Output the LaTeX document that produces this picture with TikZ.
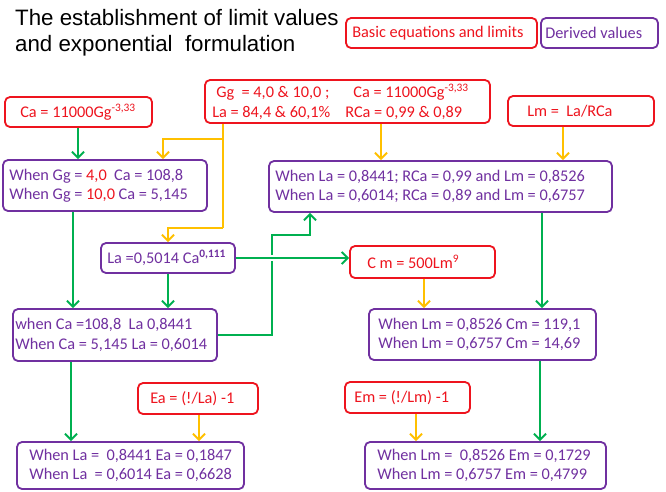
\documentclass[tikz,border=0pt]{standalone}
\usepackage{fontspec}
\setmainfont{Carlito}
\newfontfamily\titlefont{Liberation Sans}
\usetikzlibrary{arrows.meta}
\definecolor{myred}{RGB}{238,20,30}
\definecolor{mypurple}{RGB}{112,48,160}
\definecolor{mygreen}{RGB}{0,176,80}
\definecolor{myyellow}{RGB}{255,192,0}
\tikzset{
 basebox/.style={draw, rounded corners=5pt, line width=1.8pt, fill=white, inner sep=0pt},
 redbox/.style={basebox, draw=myred},
 purbox/.style={basebox, draw=mypurple},
 txt/.style={inner sep=0pt, anchor=west, align=left, font=\fontsize{16.3}{19.5}\selectfont},
 redtxt/.style={txt, text=myred},
 purtxt/.style={txt, text=mypurple},
 garrow/.style={draw=mygreen, line width=2pt, -{Straight Barb[length=6pt,width=12pt]}},
 yarrow/.style={draw=myyellow, line width=2pt, -{Straight Barb[length=6pt,width=12pt]}},
 yline/.style={draw=myyellow, line width=2pt},
}
\begin{document}
\begin{tikzpicture}[x=1pt,y=-1pt]
\useasboundingbox[fill=white] (0,0) rectangle (666,491);
% title
\node[anchor=north west, inner sep=0pt, align=left, font=\titlefont\fontsize{22.3}{26}\selectfont] (title) at (15,9) {The establishment of limit values\\and exponential\ \ formulation};
% legend
\node[redbox, minimum width=191pt, minimum height=30pt] (legbasic) at (441.5,33) {};
\node[redtxt] (legbasic-t) at ([xshift=7pt]legbasic.west) {Basic equations and limits};
\node[purbox, minimum width=117pt, minimum height=30pt] (legderived) at (599.5,33) {};
\node[purtxt] (legderived-t) at ([xshift=5pt]legderived.west) {Derived values};
% boxes
\node[redbox, minimum width=147pt, minimum height=30pt] (cagg) at (78.5,112) {};
\node[redtxt] (cagg-t) at ([xshift=16pt]cagg.west) {Ca = 11000Gg\textsuperscript{-3,33}};
\node[redbox, minimum width=285pt, minimum height=43pt] (topred) at (347.5,101.5) {};
\node[redtxt] (topred-t) at ([xshift=8pt]topred.west) {\makebox[137pt][l]{\hspace{4pt}Gg\ \ = 4,0 \& 10,0 ;}\hspace{4pt}Ca = 11000Gg\textsuperscript{-3,33}\\\makebox[133pt][l]{La = 84,4 \& 60,1\%}RCa = 0,99 \& 0,89};
\node[redbox, minimum width=146pt, minimum height=30pt] (lm) at (581,111) {};
\node[redtxt] (lm-t) at ([xshift=20pt]lm.west) {Lm =\ \ La/RCa};
\node[purbox, minimum width=204pt, minimum height=51pt] (whengg) at (105,185.5) {};
\node[purtxt] (whengg-t) at ([xshift=7pt]whengg.west) {When Gg = \textcolor{myred}{4,0}\ \ Ca = 108,8\\When Gg = \textcolor{myred}{10,0} Ca = 5,145};
\node[purbox, minimum width=343pt, minimum height=51pt] (whenla) at (440.5,186.5) {};
\node[purtxt] (whenla-t) at ([xshift=7pt]whenla.west) {When La = 0,8441; RCa = 0,99 and Lm = 0,8526\\When La = 0,6014; RCa = 0,89 and Lm = 0,6757};
\node[purbox, minimum width=134pt, minimum height=30pt] (laeq) at (168,258) {};
\node[purtxt] (laeq-t) at ([xshift=7pt]laeq.west) {La =0,5014 Ca\textsuperscript{\textbf{0,111}}};
\node[redbox, minimum width=145pt, minimum height=32pt] (cm) at (422.5,262) {};
\node[redtxt] (cm-t) at ([xshift=18pt]cm.west) {C m = 500Lm\textsuperscript{9}};
\node[purbox, minimum width=204pt, minimum height=52pt] (whenca) at (115,335) {};
\node[purtxt] (whenca-t) at ([xshift=3pt]whenca.west) {when Ca =108,8\ \ La 0,8441\\When Ca = 5,145 La = 0,6014};
\node[purbox, minimum width=227pt, minimum height=51pt] (whenlm) at (482.5,334.5) {};
\node[purtxt] (whenlm-t) at ([xshift=10pt]whenlm.west) {When Lm = 0,8526 Cm = 119,1\\When Lm = 0,6757 Cm = 14,69};
\node[redbox, minimum width=120pt, minimum height=31pt] (ea) at (198,398.5) {};
\node[redtxt] (ea-t) at ([xshift=13pt]ea.west) {Ea = (!/La) -1};
\node[redbox, minimum width=125pt, minimum height=31pt] (em) at (407.5,397.5) {};
\node[redtxt] (em-t) at ([xshift=10pt]em.west) {Em = (!/Lm) -1};
\node[purbox, minimum width=227pt, minimum height=47pt] (botleft) at (130.5,465.5) {};
\node[purtxt] (botleft-t) at ([xshift=13pt]botleft.west) {When La =\ \ 0,8441 Ea = 0,1847\\When La\ \ = 0,6014 Ea = 0,6628};
\node[purbox, minimum width=241pt, minimum height=47pt] (botright) at (485.5,465.5) {};
\node[purtxt] (botright-t) at ([xshift=13pt]botright.west) {When Lm =\ \ 0,8526 Em = 0,1729\\When Lm = 0,6757 Em = 0,4799};
% helper coordinates
\coordinate (x78) at (78,0);
\coordinate (x223) at (223,0);
\coordinate (x163) at (163,0);
\coordinate (x381) at (381,0);
\coordinate (x563) at (563,0);
\coordinate (x73) at (73,0);
\coordinate (x310) at (310,0);
\coordinate (x542) at (542,0);
\coordinate (x424) at (424,0);
\coordinate (x540) at (540,0);
\coordinate (x416) at (416,0);
\coordinate (x71) at (71,0);
\coordinate (x199) at (199,0);
\coordinate (ybend) at (223,228);
\coordinate (ybranch) at (223,139);
\coordinate (gbend) at (272,235);
% connectors
\draw[garrow] (cagg.south -| x78) -- (whengg.north -| x78);
\draw[yline] (topred.south -| x223) -- (ybend);
\draw[yarrow] (ybend) -| (laeq.north);
\draw[yarrow] (ybranch) -| (whengg.north -| x163);
\draw[yarrow] (topred.south -| x381) -- (whenla.north -| x381);
\draw[yarrow] (lm.south -| x563) -- (whenla.north -| x563);
\draw[garrow] (whengg.south -| x73) -- (whenca.north -| x73);
\draw[garrow] (laeq.south) -- (whenca.north -| laeq.south);
\draw[garrow] (whenca.east) -| (gbend) -| (whenla.south -| x310);
\draw[garrow, preaction={draw=white, line width=6pt, -}] (laeq.east) -- (laeq.east -| cm.west);
\draw[garrow] (whenla.south -| x542) -- (whenlm.north -| x542);
\draw[yarrow] (cm.south -| x424) -- (whenlm.north -| x424);
\draw[garrow] (whenlm.south -| x540) -- (botright.north -| x540);
\draw[yarrow] (em.south -| x416) -- (botright.north -| x416);
\draw[garrow] (whenca.south -| x71) -- (botleft.north -| x71);
\draw[yarrow] (ea.south -| x199) -- (botleft.north -| x199);
\end{tikzpicture}
\end{document}
